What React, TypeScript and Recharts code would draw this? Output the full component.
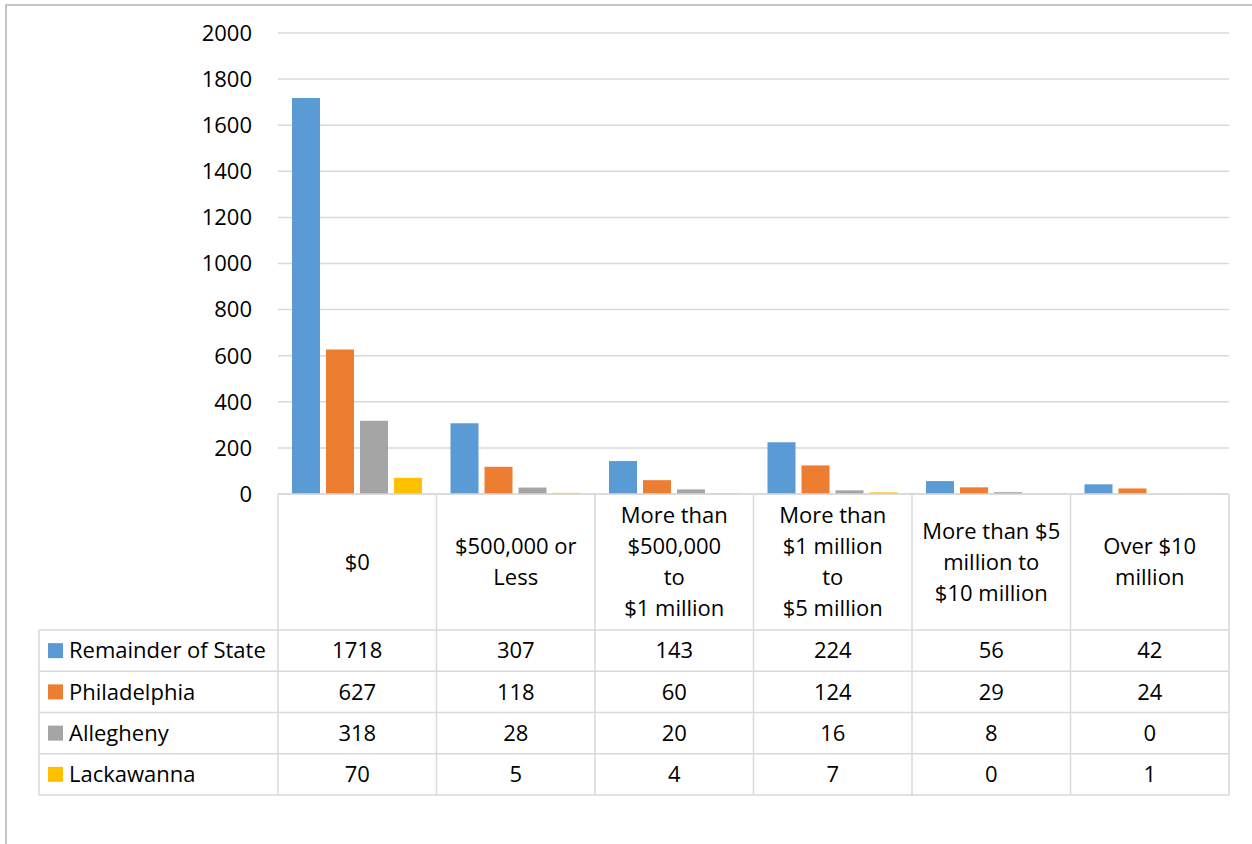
import React from "react";
import { BarChart, Bar, XAxis, YAxis, CartesianGrid } from "recharts";

// Category headers, one entry per wrapped line
const CATEGORY_LINES: string[][] = [
  ["$0"],
  ["$500,000 or", "Less"],
  ["More than", "$500,000", "to", "$1 million"],
  ["More than", "$1 million", "to", "$5 million"],
  ["More than $5", "million to", "$10 million"],
  ["Over $10", "million"],
];

const SERIES_NAMES = ["Remainder of State", "Philadelphia", "Allegheny", "Lackawanna"];
const SERIES_KEYS = ["remainder", "philadelphia", "allegheny", "lackawanna"];
const SERIES_COLORS = ["#5b9bd5", "#ed7d31", "#a5a5a5", "#ffc000"];

const REMAINDER = [1718, 307, 143, 224, 56, 42];
const PHILADELPHIA = [627, 118, 60, 124, 29, 24];
const ALLEGHENY = [318, 28, 20, 16, 8, 0];
const LACKAWANNA = [70, 5, 4, 7, 0, 1];

const Y_TICKS = [0, 200, 400, 600, 800, 1000, 1200, 1400, 1600, 1800, 2000];

const SERIES_VALUES = [REMAINDER, PHILADELPHIA, ALLEGHENY, LACKAWANNA];

const data = CATEGORY_LINES.map((lines, i) => {
  const row: Record<string, string | number> = { category: lines.join(" ") };
  SERIES_KEYS.forEach((k, s) => {
    row[k] = SERIES_VALUES[s][i];
  });
  return row;
});

const FONT = "'Open Sans', 'Noto Sans', sans-serif";
const FONT_SIZE = 22;
const LINE_COLOR = "#d9d9d9";
const TEXT_COLOR = "#000000";

// Data-table geometry (below the plot)
const HEADER_H = 136;
const ROW_H = 41.25;
const LEGEND_COL_W = 239;
const HEADER_LINE_GAP = 31;

function TableColumn(props: any) {
  const { x, y, payload, index } = props;
  const idx: number = typeof index === "number" ? index : payload?.index ?? 0;
  const half: number = payload?.offset ?? 79.25;
  const left = x - half;
  const right = x + half;
  const lines = CATEGORY_LINES[idx] || [];
  const headerMid = y + HEADER_H / 2;
  const tableBottom = y + HEADER_H + ROW_H * SERIES_NAMES.length;
  const legendLeft = left - LEGEND_COL_W;
  const lineStartX = idx === 0 ? legendLeft : left;

  const els: React.ReactNode[] = [];
  // top border of the header cell
  els.push(<line key="top" x1={left} x2={right} y1={y} y2={y} stroke={LINE_COLOR} strokeWidth={1.5} />);
  // vertical borders
  els.push(<line key="vr" x1={right} x2={right} y1={y} y2={tableBottom} stroke={LINE_COLOR} strokeWidth={1.5} />);
  if (idx === 0) {
    els.push(<line key="vl" x1={left} x2={left} y1={y} y2={tableBottom} stroke={LINE_COLOR} strokeWidth={1.5} />);
    els.push(
      <line key="vleg" x1={legendLeft} x2={legendLeft} y1={y + HEADER_H} y2={tableBottom} stroke={LINE_COLOR} strokeWidth={1.5} />
    );
  }
  // horizontal row borders
  for (let r = 0; r <= SERIES_NAMES.length; r++) {
    const yy = y + HEADER_H + r * ROW_H;
    els.push(<line key={"h" + r} x1={lineStartX} x2={right} y1={yy} y2={yy} stroke={LINE_COLOR} strokeWidth={1.5} />);
  }
  // header text
  const firstY = headerMid - ((lines.length - 1) * HEADER_LINE_GAP) / 2;
  lines.forEach((ln, li) => {
    els.push(
      <text
        key={"t" + li}
        x={x}
        y={firstY + li * HEADER_LINE_GAP}
        dy="0.35em"
        textAnchor="middle"
        fontFamily={FONT}
        fontSize={FONT_SIZE}
        fill={TEXT_COLOR}
      >
        {ln}
      </text>
    );
  });
  // values
  SERIES_VALUES.forEach((vals, s) => {
    const cy = y + HEADER_H + s * ROW_H + ROW_H / 2;
    els.push(
      <text key={"v" + s} x={x} y={cy} dy="0.35em" textAnchor="middle" fontFamily={FONT} fontSize={FONT_SIZE} fill={TEXT_COLOR}>
        {vals[idx]}
      </text>
    );
    if (idx === 0) {
      els.push(<rect key={"k" + s} x={legendLeft + 9} y={cy - 7.5} width={15} height={15} fill={SERIES_COLORS[s]} />);
      els.push(
        <text
          key={"n" + s}
          x={legendLeft + 30}
          y={cy}
          dy="0.35em"
          textAnchor="start"
          fontFamily={FONT}
          fontSize={FONT_SIZE}
          fill={TEXT_COLOR}
        >
          {SERIES_NAMES[s]}
        </text>
      );
    }
  });
  return <g>{els}</g>;
}

export default function App() {
  return (
    <div
      style={{
        position: "absolute",
        left: 0,
        top: 0,
        width: 1252,
        height: 844,
        overflow: "hidden",
        background: "#ffffff",
      }}
    >
      <div
        style={{
          position: "absolute",
          left: 5,
          top: 4,
          width: 1400,
          height: 1000,
          borderTop: "2px solid #c4c4c4",
          borderLeft: "2px solid #c4c4c4",
        }}
      />
      <div style={{ position: "absolute", left: 0, top: 0 }}>
        <BarChart
          width={1252}
          height={844}
          data={data}
          margin={{ top: 33, right: 23, bottom: 0, left: 218 }}
          barSize={28}
          barGap={6}
        >
          <CartesianGrid vertical={false} stroke={LINE_COLOR} strokeWidth={1.5} />
          <YAxis
            width={60}
            domain={[0, 2000]}
            ticks={Y_TICKS}
            axisLine={false}
            tickLine={false}
            tickSize={0}
            tickMargin={26}
            interval={0}
            tick={{ fontFamily: FONT, fontSize: FONT_SIZE, fill: TEXT_COLOR }}
          />
          <XAxis
            dataKey="category"
            height={350}
            axisLine={false}
            tickLine={false}
            tickSize={0}
            tickMargin={0}
            interval={0}
            tick={<TableColumn />}
          />
          {SERIES_KEYS.map((k, s) => (
            <Bar key={k} dataKey={k} name={SERIES_NAMES[s]} fill={SERIES_COLORS[s]} isAnimationActive={false} />
          ))}
        </BarChart>
      </div>
    </div>
  );
}
